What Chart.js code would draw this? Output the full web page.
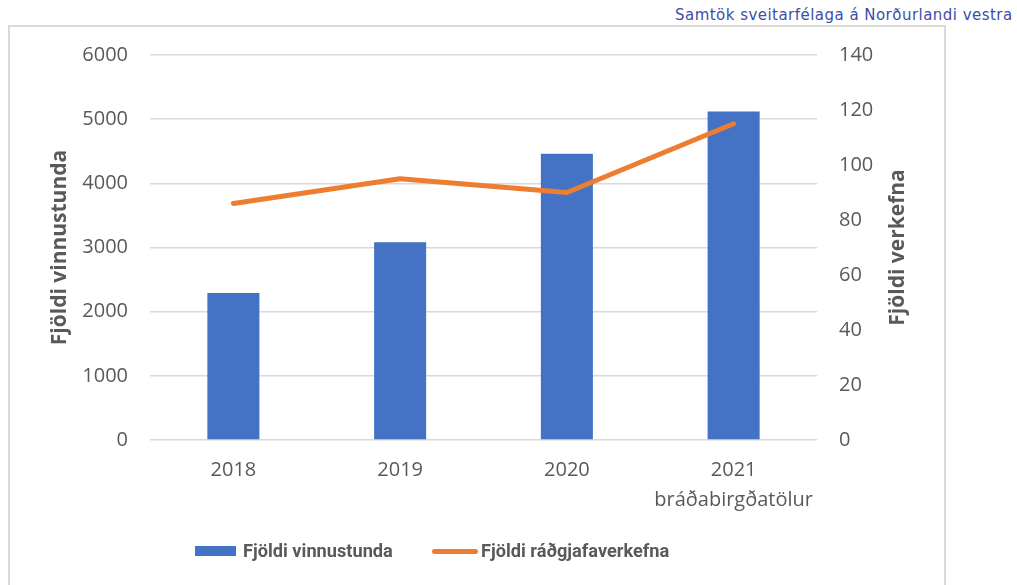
<!DOCTYPE html>
<html><head><meta charset="utf-8">
<script src="https://cdn.jsdelivr.net/npm/chart.js@4"></script>
<style>
html,body{margin:0;padding:0;background:#fff;width:1017px;height:585px;overflow:hidden;}
#frame{position:absolute;left:8px;top:25px;width:938px;height:600px;border:2px solid #d9d9d9;box-sizing:border-box;}
#wrap{position:absolute;left:0;top:0;width:1017px;height:585px;}
#src{position:absolute;left:675px;top:4px;font:15px "DejaVu Sans";letter-spacing:0.47px;color:#3d4da8;white-space:nowrap;line-height:22px;}
.lbox{position:absolute;}
.ltxt{position:absolute;font:bold 18.2px Roboto;color:#595959;line-height:24px;top:539px;white-space:nowrap;}
</style></head>
<body>
<div id="frame"></div>
<div id="src">Samtök sveitarfélaga á Norðurlandi vestra</div>
<div id="wrap"><canvas id="c" width="1017" height="585"></canvas></div>
<div class="lbox" style="left:195px;top:546px;width:41px;height:10px;background:#4472C4"></div>
<div class="ltxt" style="left:243px">Fjöldi vinnustunda</div>
<div class="lbox" style="left:432px;top:548.5px;width:46px;height:5px;border-radius:2.5px;background:#ED7D31"></div>
<div class="ltxt" style="left:481px">Fjöldi ráðgjafaverkefna</div>
<script>
const categories = ['2018', '2019', '2020', ['2021', 'bráðabirgðatölur']];
const hours = [2290, 3080, 4460, 5120];
const projects = [86, 95, 90, 115];
const hoursLabel = 'Fjöldi vinnustunda';
const projectsLabel = 'Fjöldi ráðgjafaverkefna';
const leftTitle = 'Fjöldi vinnustunda';
const rightTitle = 'Fjöldi verkefna';

const tickFont = { family: 'Open Sans', size: 20 };
const textColor = '#595959';

const rightTitlePlugin = {
  id: 'rightTitle',
  afterDraw(chart) {
    const s = chart.scales.y1;
    const ctx = chart.ctx;
    ctx.save();
    ctx.translate(898, (s.top + s.bottom) / 2);
    ctx.rotate(-Math.PI / 2);
    ctx.font = 'bold 21px "Open Sans"';
    ctx.fillStyle = textColor;
    ctx.textAlign = 'center';
    ctx.textBaseline = 'middle';
    ctx.fillText(rightTitle, 0, 0);
    ctx.restore();
  }
};

new Chart(document.getElementById('c'), {
  data: {
    labels: categories,
    datasets: [
      { type: 'line', label: projectsLabel, data: projects, yAxisID: 'y1', order: 0,
        borderColor: '#ED7D31', borderWidth: 5, borderCapStyle: 'round', borderJoinStyle: 'round',
        pointRadius: 0, tension: 0, fill: false },
      { type: 'bar', label: hoursLabel, data: hours, yAxisID: 'y', order: 1,
        backgroundColor: '#4472C4', borderWidth: 0, barPercentage: 0.312, categoryPercentage: 1 }
    ]
  },
  options: {
    responsive: false, animation: false, devicePixelRatio: 1,
    layout: { padding: { top: 55, left: 0, right: 0, bottom: 0 } },
    plugins: { legend: { display: false }, tooltip: { enabled: false } },
    scales: {
      x: {
        grid: { display: false, drawTicks: false }, border: { display: false },
        ticks: { font: { family: 'Open Sans', size: 20, lineHeight: 1.5 }, color: textColor, padding: 15, maxRotation: 0 },
        afterFit(s) { s.height = 145; }
      },
      y: {
        position: 'left', min: 0, max: 6000,
        ticks: { stepSize: 1000, font: tickFont, color: textColor, padding: 22, callback: v => String(v) },
        grid: { color: '#d9d9d9', lineWidth: 1.5, drawTicks: false }, border: { display: false },
        title: { display: true, text: leftTitle, color: textColor, font: { family: 'Open Sans', size: 21, weight: 'bold' }, padding: { top: 47.4, bottom: 0 } },
        afterFit(s) { s.width = 150; }
      },
      y1: {
        position: 'right', min: 0, max: 140,
        ticks: { stepSize: 20, font: tickFont, color: textColor, padding: 22, callback: v => String(v) },
        grid: { display: false, drawTicks: false }, border: { display: false },
        afterFit(s) { s.width = 200; }
      }
    }
  },
  plugins: [rightTitlePlugin]
});
</script>
</body></html>
